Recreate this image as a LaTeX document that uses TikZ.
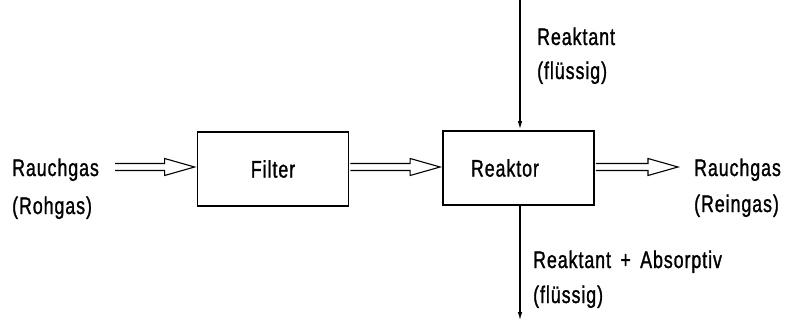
\documentclass[tikz,border=0pt]{standalone}
\usepackage{fontspec}
\setmainfont{Liberation Sans}[FakeStretch=0.74,LetterSpace=4,WordSpace=1.6,FakeBold=1.2]
\usetikzlibrary{arrows.meta,calc}
\tikzset{
  lbl/.style={anchor=base west, inner sep=0pt, font=\fontsize{24}{24}\selectfont},
  unit/.style={draw, line width=1.8pt, minimum width=151pt, minimum height=74pt,
    inner sep=0pt, font=\fontsize{24}{24}\selectfont},
  % hollow double-line arrow for the gas stream
  gasflow/.style={line width=1.1pt, line join=miter,
    to path={let \p1=(\tikztostart), \p2=(\tikztotarget) in
      (\x1,\y1+3.5pt) -- (\x2-32pt,\y1+3.5pt) -- (\x2-32pt,\y1+8.5pt)
      -- (\x2-2pt,\y1) -- (\x2-32pt,\y1-8.5pt) -- (\x2-32pt,\y1-3.5pt)
      -- (\x1,\y1-3.5pt)}},
  % single line for the liquid stream
  liquid/.style={line width=1.6pt, -{Latex[length=9pt,width=4.5pt]}}
}
\begin{document}
\begin{tikzpicture}[x=1pt,y=-1pt]
  \useasboundingbox (0,0) rectangle (790,321);

  % process units
  \node[unit] (filter) at (273,169) {Filter};
  \node[unit, text width=95pt, align=left, inner xsep=28pt] (reaktor) at (518.5,168) {Reaktor};

  % labels
  \node[lbl] (rohgas1) at (12,176) {Rauchgas};
  \node[lbl] (rohgas2) at (12,214) {(Rohgas)};
  \node[lbl] (rein1) at (694,176) {Rauchgas};
  \node[lbl] (rein2) at (694,212) {(Reingas)};
  \node[lbl] (zu1) at (537,45) {Reaktant};
  \node[lbl] (zu2) at (537,79) {(flüssig)};
  \node[lbl] (ab1) at (533,268) {Reaktant + Absorptiv};
  \node[lbl] (ab2) at (533,303) {(flüssig)};

  % gas stream
  \coordinate (gasin) at (115,167);
  \coordinate (gasout) at (680,167);
  \draw[gasflow] (gasin) to (filter.west);
  \draw[gasflow] ([xshift=1pt]filter.east |- gasin) to (reaktor.west);
  \draw[gasflow] ([xshift=1pt]reaktor.east |- gasin) to (gasout);

  % liquid stream
  \coordinate (feed) at (520,0);
  \coordinate (drain) at (520,321);
  \draw[liquid] (feed) -- (feed |- reaktor.north);
  \draw[liquid] (drain |- reaktor.south) -- (drain);
\end{tikzpicture}
\end{document}
